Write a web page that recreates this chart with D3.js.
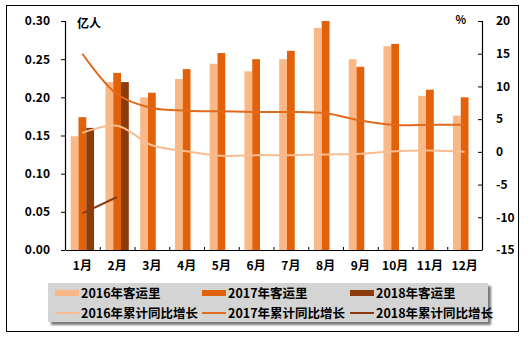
<!DOCTYPE html>
<html>
<head>
<meta charset="utf-8">
<script src="https://cdn.jsdelivr.net/npm/d3@7/dist/d3.min.js"></script>
<style>
  html, body { margin: 0; padding: 0; background: #fff; }
  svg { display: block; }
  text { font-family: "Noto Sans CJK SC", "DejaVu Sans", sans-serif; font-weight: bold; fill: #000; }
</style>
</head>
<body>
<svg id="chart" width="532" height="341"></svg>
<script>
// Monthly passenger volume (亿人) and cumulative YoY growth (%)
const months = ["1月","2月","3月","4月","5月","6月","7月","8月","9月","10月","11月","12月"];
const volume2016 = [0.149, 0.220, 0.200, 0.224, 0.244, 0.234, 0.250, 0.291, 0.250, 0.267, 0.202, 0.176];
const volume2017 = [0.174, 0.232, 0.206, 0.237, 0.258, 0.250, 0.261, 0.300, 0.240, 0.270, 0.210, 0.200];
const volume2018 = [0.160, 0.220, null, null, null, null, null, null, null, null, null, null];
const growth2016 = [2.9, 4.0, 1.0, 0.1, -0.6, -0.5, -0.5, -0.4, -0.3, 0.1, 0.2, 0.0];
const growth2017 = [15.0, 8.8, 6.7, 6.3, 6.2, 6.1, 6.1, 5.9, 4.8, 4.1, 4.15, 4.15];
const growth2018 = [-9.4, -6.9, null, null, null, null, null, null, null, null, null, null];
const leftTicks = [0, 0.05, 0.10, 0.15, 0.20, 0.25, 0.30];
const rightTicks = [-15, -10, -5, 0, 5, 10, 15, 20];

const barSeries = [
  { name: "2016年客运里", values: volume2016, color: "#F9B886" },
  { name: "2017年客运里", values: volume2017, color: "#E2620B" },
  { name: "2018年客运里", values: volume2018, color: "#8C3B0B" }
];
const lineSeries = [
  { name: "2016年累计同比增长", values: growth2016, color: "#F8BD91" },
  { name: "2017年累计同比增长", values: growth2017, color: "#E26A1C" },
  { name: "2018年累计同比增长", values: growth2018, color: "#8B3A10" }
];

const svg = d3.select("#chart");
const plot = { left: 65, right: 482, top: 21, bottom: 250 };

// outer frame
svg.append("rect")
  .attr("x", 6.5).attr("y", 5.5).attr("width", 512).attr("height", 326)
  .attr("fill", "#fff").attr("stroke", "#000").attr("stroke-width", 1);

const x = d3.scaleBand().domain(months).range([plot.left, plot.right]).padding(0);
const xs = d3.scaleBand().domain(barSeries.map(s => s.name))
  .range([0, x.bandwidth()]).paddingInner(0).paddingOuter(0.73);
const yL = d3.scaleLinear().domain([0, 0.30]).range([plot.bottom, plot.top]);
const yR = d3.scaleLinear().domain([-15, 20]).range([plot.bottom, plot.top]);

// bars
barSeries.forEach(s => {
  svg.append("g").selectAll("rect")
    .data(months.map((m, i) => ({ m, v: s.values[i] })).filter(d => d.v != null))
    .join("rect")
    .attr("x", d => x(d.m) + xs(s.name))
    .attr("width", xs.bandwidth())
    .attr("y", d => yL(d.v))
    .attr("height", d => yL(0) - yL(d.v))
    .attr("fill", s.color);
});

// smoothed growth lines
const line = d3.line()
  .defined(d => d.v != null)
  .x(d => x(d.m) + x.bandwidth() / 2)
  .y(d => yR(d.v))
  .curve(d3.curveCatmullRom.alpha(0.5));
lineSeries.forEach(s => {
  svg.append("path")
    .datum(months.map((m, i) => ({ m, v: s.values[i] })))
    .attr("d", line)
    .attr("fill", "none")
    .attr("stroke", s.color)
    .attr("stroke-width", 2);
});

// left axis
const gL = svg.append("g").attr("transform", `translate(${plot.left},0)`)
  .call(d3.axisLeft(yL).tickValues(leftTicks).tickFormat(d3.format(".2f")).tickSize(4).tickPadding(11));
// right axis, ticks pointing into the plot
const gR = svg.append("g").attr("transform", `translate(${plot.right},0)`)
  .call(d3.axisRight(yR).tickValues(rightTicks).tickFormat(d => d < 0 ? "-" + Math.abs(d) : d).tickSize(-4).tickPadding(14));
// category axis with ticks between months
const gX = svg.append("g").attr("transform", `translate(0,${plot.bottom})`)
  .call(d3.axisBottom(x).tickSize(0).tickPadding(11));
gX.append("g").selectAll("line")
  .data(months.slice(1))
  .join("line")
  .attr("x1", d => x(d) + 0.5).attr("x2", d => x(d) + 0.5)
  .attr("y1", 0).attr("y2", -3)
  .attr("stroke", "#000");

[gL, gR, gX].forEach(g => {
  g.select(".domain").attr("stroke", "#000").attr("stroke-width", 1.2);
  g.selectAll(".tick line").attr("stroke", "#000");
  g.selectAll("text").attr("font-size", 12).attr("font-family", null).attr("fill", "#000");
});
gL.select(".domain").attr("d", `M-4,${plot.top}.5H0.5V${plot.bottom}`);
gR.select(".domain").attr("d", `M-4,${plot.top}.5H0.5V${plot.bottom}`);
gR.selectAll(".tick text").attr("text-anchor", "start");

// axis units
svg.append("text").attr("x", 77).attr("y", 28).attr("font-size", 12).text("亿人");
svg.append("text").attr("x", 466).attr("y", 24).attr("font-size", 11).attr("text-anchor", "end").text("%");

// legend
const legend = { x: 48, y: 283, w: 440, h: 39 };
const defs = svg.append("defs");
defs.append("filter").attr("id", "shadowBlur")
  .append("feGaussianBlur").attr("stdDeviation", 1.2);
svg.append("rect")
  .attr("x", legend.x + 3).attr("y", legend.y + 3).attr("width", legend.w).attr("height", legend.h)
  .attr("fill", "#7a7a7a").attr("filter", "url(#shadowBlur)");
svg.append("rect")
  .attr("x", legend.x).attr("y", legend.y).attr("width", legend.w).attr("height", legend.h)
  .attr("fill", "#D4D4D4");

const colX = [55, 202, 350];
const rowY = [293, 313];
barSeries.forEach((s, i) => {
  svg.append("rect").attr("x", colX[i]).attr("y", rowY[0] - 3).attr("width", 24).attr("height", 6).attr("fill", s.color);
  svg.append("text").attr("x", colX[i] + 26).attr("y", rowY[0] + 4.5).attr("font-size", 12.5).text(s.name);
});
lineSeries.forEach((s, i) => {
  svg.append("line").attr("x1", colX[i]).attr("x2", colX[i] + 24).attr("y1", rowY[1]).attr("y2", rowY[1])
    .attr("stroke", s.color).attr("stroke-width", 2);
  svg.append("text").attr("x", colX[i] + 26).attr("y", rowY[1] + 4.5).attr("font-size", 12.5).text(s.name);
});
</script>
</body>
</html>
